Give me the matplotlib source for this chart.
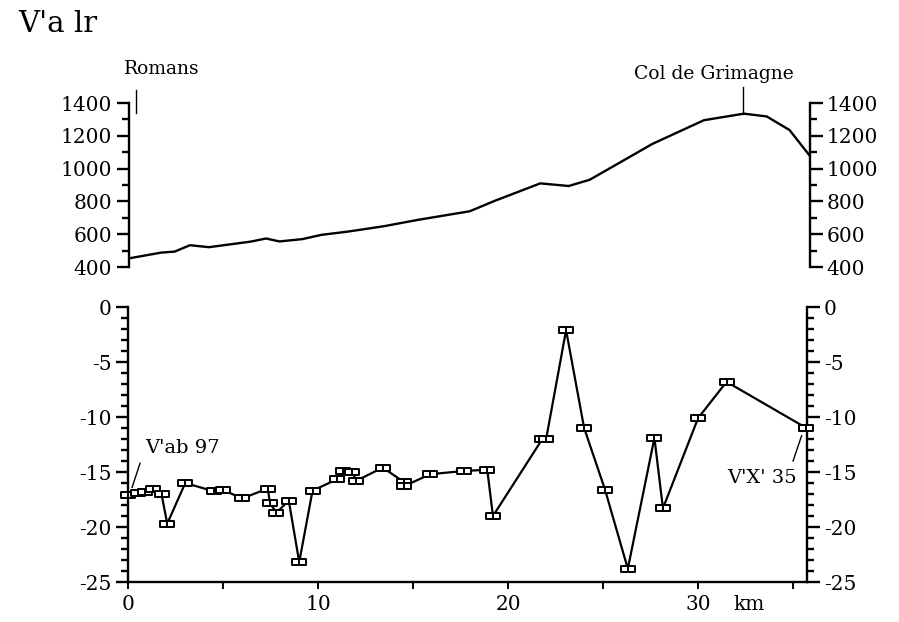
import numpy as np
import matplotlib.pyplot as plt
from matplotlib.path import Path
from matplotlib.ticker import MultipleLocator

# --- Perfil de altitud (km, m) ---
alt_km = [0.1, 1.7, 2.4, 3.2, 4.2, 6.4, 7.2, 7.9, 9.1, 10.1, 11.5, 13.4,
          15.2, 17.9, 19.2, 21.6, 23.1, 24.2, 25.8, 27.5, 30.2, 32.3,
          33.5, 34.7, 35.75]
alt_m = [455, 488, 494, 533, 521, 555, 574, 556, 570, 596, 616, 649,
         688, 740, 803, 910, 894, 932, 1038, 1151, 1295, 1335,
         1318, 1235, 1080]

# --- Serie inferior (km, valor) ---
ser_km = [0.0, 0.5, 0.9, 1.3, 1.75, 2.05, 3.0, 4.5, 5.0, 6.0, 7.35, 7.45,
          7.8, 8.45, 9.0, 9.7, 11.0, 11.3, 11.8, 12.0, 13.4, 14.5, 14.5,
          15.9, 17.7, 18.9, 19.2, 21.8, 22.0, 23.05, 24.0, 25.1, 26.3,
          27.7, 28.15, 30.0, 31.5, 35.7]
ser_val = [-17.1, -16.9, -16.8, -16.5, -17.0, -19.7, -16.0, -16.75, -16.65,
           -17.4, -16.5, -17.8, -18.7, -17.6, -23.2, -16.7, -15.65, -14.9,
           -15.0, -15.8, -14.6, -15.9, -16.3, -15.2, -14.9, -14.8, -19.0,
           -12.0, -12.0, -2.1, -11.0, -16.6, -23.8, -11.9, -18.3, -10.1,
           -6.8, -11.0]

plt.rcParams['font.family'] = ['DejaVu Serif']
plt.rcParams['axes.unicode_minus'] = False

XMAX = 35.75
FS = 14.5

# marcador rectangular con division central
box = Path([(-1, -0.5), (1, -0.5), (1, 0.5), (-1, 0.5), (-1, -0.5),
            (0, -0.5), (0, 0.5)],
           [Path.MOVETO, Path.LINETO, Path.LINETO, Path.LINETO, Path.CLOSEPOLY,
            Path.MOVETO, Path.LINETO])

fig = plt.figure(figsize=(8.99, 6.22), dpi=100)

# ---------- panel superior ----------
ax1 = fig.add_axes([0.1435, 0.5707, 0.757, 0.2637])
ax1.plot(alt_km, alt_m, color='black', lw=1.7)
ax1.set_xlim(0, XMAX)
ax1.set_ylim(400, 1400)
for s in ['top', 'bottom']:
    ax1.spines[s].set_visible(False)
for s in ['left', 'right']:
    ax1.spines[s].set_linewidth(1.7)
ax1.set_xticks([])
ax1.yaxis.set_major_locator(MultipleLocator(200))
ax1.yaxis.set_minor_locator(MultipleLocator(100))
ax1.tick_params(axis='y', which='both', direction='out', left=True, right=True,
                labelleft=True, labelright=True, width=1.7, labelsize=FS, pad=3)
ax1.tick_params(axis='y', which='major', length=9)
ax1.tick_params(axis='y', which='minor', length=5)

ax1.plot([0.35, 0.35], [1340, 1480], color='black', lw=1.0, clip_on=False)
ax1.text(-0.28, 1610, 'Romans', fontsize=FS - 1, ha='left', va='center')
ax1.plot([32.25, 32.25], [1335, 1495], color='black', lw=1.0, clip_on=False)
ax1.text(30.7, 1575, 'Col de Grimagne', fontsize=FS - 1, ha='center', va='center')

# ---------- panel inferior ----------
ax2 = fig.add_axes([0.1427, 0.0643, 0.7553, 0.4421])
ax2.plot(ser_km, ser_val, color='black', lw=1.6, marker=box, markersize=10,
         markerfacecolor='white', markeredgecolor='black', markeredgewidth=1.4,
         clip_on=False, zorder=3)
ax2.set_xlim(0, XMAX)
ax2.set_ylim(-25, 0)
ax2.spines['top'].set_visible(False)
for s in ['left', 'right', 'bottom']:
    ax2.spines[s].set_linewidth(1.7)
ax2.yaxis.set_major_locator(MultipleLocator(5))
ax2.yaxis.set_minor_locator(MultipleLocator(1))
ax2.tick_params(axis='y', which='both', direction='out', left=True, right=True,
                labelleft=True, labelright=True, width=1.7, labelsize=FS, pad=3)
ax2.tick_params(axis='y', which='major', length=9)
ax2.tick_params(axis='y', which='minor', length=5)
ax2.set_xticks([0, 10, 20, 30])
ax2.set_xticks([5, 15, 25, 35], minor=True)
ax2.tick_params(axis='x', which='both', direction='out', length=5, width=1.4,
                labelsize=FS, pad=4)
ax2.text(32.7, -27.0, 'km', fontsize=FS, ha='center', va='center')

ax2.plot([0.2, 0.62], [-16.4, -14.2], color='black', lw=1.0)
ax2.text(0.88, -12.8, "V'ab 97", fontsize=FS - 0.5, ha='left', va='center')
ax2.plot([35.0, 35.45], [-14.0, -11.7], color='black', lw=1.0)
ax2.text(35.2, -15.5, "V'X' 35", fontsize=FS - 0.5, ha='right', va='center')

fig.text(0.02, 0.962, "V'a lr", fontsize=21, ha='left', va='center')

fig.savefig('out.png', dpi=100)
